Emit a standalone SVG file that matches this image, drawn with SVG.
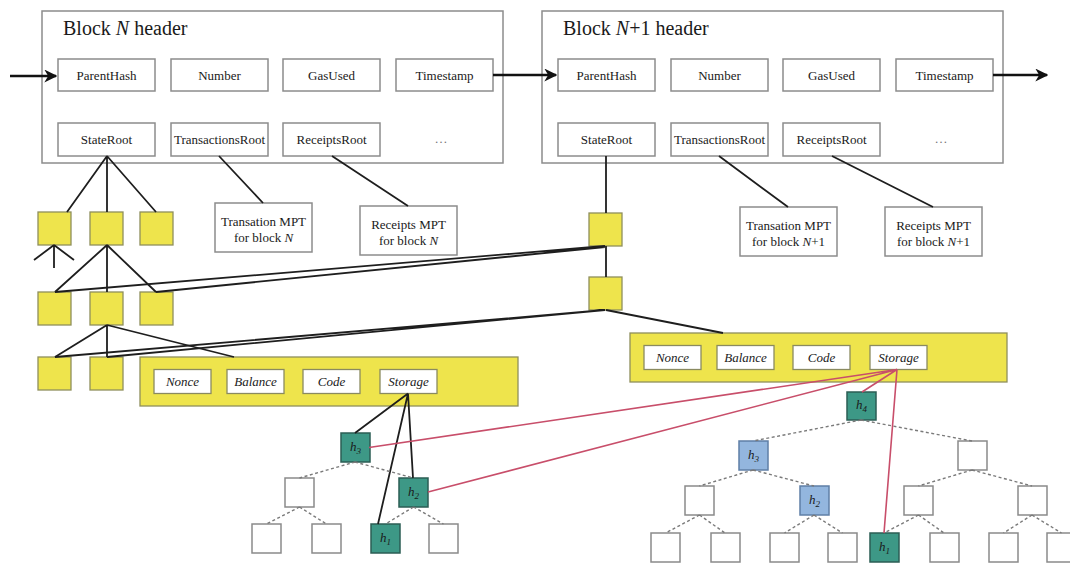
<svg xmlns="http://www.w3.org/2000/svg" width="1070" height="566" viewBox="0 0 1070 566">
  <defs>
    <marker id="arrow" viewBox="0 0 10 10" refX="9" refY="5" markerWidth="5" markerHeight="5" orient="auto" markerUnits="strokeWidth">
      <path d="M0,0 L10,5 L0,10 L3,5 Z" fill="#111"/>
    </marker>
    <style>
      text { font-family: "Liberation Serif", "Times New Roman", serif; fill: #1a1a1a; }
      .title { font-size: 20px; }
      .fldt { font-size: 13px; text-anchor: middle; }
      .it { font-style: italic; }
      .hdr { fill: #fff; stroke: #8c8c8c; stroke-width: 1.5; }
      .fld { fill: #fff; stroke: #8c8c8c; stroke-width: 1.5; }
      .ylw { fill: #eee44c; stroke: #8f8f5c; stroke-width: 1.3; }
      .acf { fill: #fff; stroke: #8a8a60; stroke-width: 1.3; }
      .node { fill: #fff; stroke: #8a8a8a; stroke-width: 1.5; }
      .teal { fill: #3d9886; stroke: #2b5d54; stroke-width: 1.5; }
      .blue { fill: #93b6de; stroke: #5f7fa6; stroke-width: 1.5; }
      .conn { stroke: #1e1e1e; stroke-width: 1.8; fill: none; }
      .arr { stroke: #111; stroke-width: 2.6; fill: none; }
      .dot { stroke: #7a7a7a; stroke-width: 1.4; stroke-dasharray: 3 2.5; fill: none; }
      .red { stroke: #c84e6a; stroke-width: 1.6; fill: none; }
      .hl { font-size: 13px; font-style: italic; text-anchor: middle; }
      .ell { fill: #777; }
    </style>
  </defs>

  <!-- block headers -->
  <g id="block-n">
    <rect class="hdr" x="42" y="11" width="461" height="152"/>
    <text class="title" x="63" y="35">Block <tspan class="it">N</tspan> header</text>
    <rect class="fld" x="58" y="59" width="97" height="32"/>
    <text class="fldt" x="106.5" y="79.5">ParentHash</text>
    <rect class="fld" x="171" y="59" width="97" height="32"/>
    <text class="fldt" x="219.5" y="79.5">Number</text>
    <rect class="fld" x="283" y="59" width="97" height="32"/>
    <text class="fldt" x="331.5" y="79.5">GasUsed</text>
    <rect class="fld" x="396" y="59" width="97" height="32"/>
    <text class="fldt" x="444.5" y="79.5">Timestamp</text>
    <rect class="fld" x="58" y="123" width="97" height="33"/>
    <text class="fldt" x="106.5" y="144">StateRoot</text>
    <rect class="fld" x="171" y="123" width="97" height="33"/>
    <text class="fldt" x="219.5" y="144" textLength="91" lengthAdjust="spacingAndGlyphs">TransactionsRoot</text>
    <rect class="fld" x="283" y="123" width="97" height="33"/>
    <text class="fldt" x="331.5" y="144">ReceiptsRoot</text>
    <text class="fldt ell" x="441" y="143">…</text>
  </g>

  <g id="block-n1">
    <rect class="hdr" x="542" y="11" width="461" height="152"/>
    <text class="title" x="563" y="35">Block <tspan class="it">N</tspan>+1 header</text>
    <rect class="fld" x="558" y="59" width="97" height="32"/>
    <text class="fldt" x="606.5" y="79.5">ParentHash</text>
    <rect class="fld" x="671" y="59" width="97" height="32"/>
    <text class="fldt" x="719.5" y="79.5">Number</text>
    <rect class="fld" x="783" y="59" width="97" height="32"/>
    <text class="fldt" x="831.5" y="79.5">GasUsed</text>
    <rect class="fld" x="896" y="59" width="97" height="32"/>
    <text class="fldt" x="944.5" y="79.5">Timestamp</text>
    <rect class="fld" x="558" y="123" width="97" height="33"/>
    <text class="fldt" x="606.5" y="144">StateRoot</text>
    <rect class="fld" x="671" y="123" width="97" height="33"/>
    <text class="fldt" x="719.5" y="144" textLength="91" lengthAdjust="spacingAndGlyphs">TransactionsRoot</text>
    <rect class="fld" x="783" y="123" width="97" height="33"/>
    <text class="fldt" x="831.5" y="144">ReceiptsRoot</text>
    <text class="fldt ell" x="941" y="143">…</text>
  </g>

  <!-- per-block transaction / receipt tries -->
  <g id="tx-mpt-n">
    <rect class="fld" x="215" y="203" width="97" height="49"/>
    <text class="fldt" x="263.5" y="226">Transation MPT</text>
    <text class="fldt" x="263.5" y="242">for block <tspan class="it">N</tspan></text>
  </g>
  <g id="rc-mpt-n">
    <rect class="fld" x="360" y="206" width="97" height="49"/>
    <text class="fldt" x="408.5" y="229">Receipts MPT</text>
    <text class="fldt" x="408.5" y="245">for block <tspan class="it">N</tspan></text>
  </g>
  <g id="tx-mpt-n1">
    <rect class="fld" x="740" y="207" width="97" height="49"/>
    <text class="fldt" x="788.5" y="230">Transation MPT</text>
    <text class="fldt" x="788.5" y="246">for block <tspan class="it">N</tspan>+1</text>
  </g>
  <g id="rc-mpt-n1">
    <rect class="fld" x="885" y="207" width="97" height="49"/>
    <text class="fldt" x="933.5" y="230">Receipts MPT</text>
    <text class="fldt" x="933.5" y="246">for block <tspan class="it">N</tspan>+1</text>
  </g>

  <!-- state trie nodes of block N -->
  <g id="state-n">
    <rect class="ylw" x="38" y="212" width="33" height="33"/>
    <rect class="ylw" x="90" y="212" width="33" height="33"/>
    <rect class="ylw" x="140" y="212" width="33" height="33"/>
    <rect class="ylw" x="38" y="292" width="33" height="33"/>
    <rect class="ylw" x="90" y="292" width="33" height="33"/>
    <rect class="ylw" x="140" y="292" width="33" height="33"/>
    <rect class="ylw" x="38" y="357" width="33" height="33"/>
    <rect class="ylw" x="90" y="357" width="33" height="33"/>
  </g>

  <g id="state-n1">
    <rect class="ylw" x="589" y="213" width="33" height="33"/>
    <rect class="ylw" x="589" y="277" width="33" height="33"/>
  </g>

  <!-- account records -->
  <g id="account-n">
    <rect class="ylw" x="140" y="357" width="378" height="49"/>
    <rect class="acf" x="154" y="369.5" width="57" height="24"/>
    <text class="fldt it" x="182.5" y="386">Nonce</text>
    <rect class="acf" x="227" y="369.5" width="57" height="24"/>
    <text class="fldt it" x="255.5" y="386">Balance</text>
    <rect class="acf" x="303" y="369.5" width="57" height="24"/>
    <text class="fldt it" x="331.5" y="386">Code</text>
    <rect class="acf" x="380" y="369.5" width="57" height="24"/>
    <text class="fldt it" x="408.5" y="386">Storage</text>
  </g>

  <g id="account-n1">
    <rect class="ylw" x="630" y="333" width="377" height="49"/>
    <rect class="acf" x="644" y="345.5" width="57" height="24"/>
    <text class="fldt it" x="672.5" y="362">Nonce</text>
    <rect class="acf" x="717" y="345.5" width="57" height="24"/>
    <text class="fldt it" x="745.5" y="362">Balance</text>
    <rect class="acf" x="793" y="345.5" width="57" height="24"/>
    <text class="fldt it" x="821.5" y="362">Code</text>
    <rect class="acf" x="870" y="345.5" width="57" height="24"/>
    <text class="fldt it" x="898.5" y="362">Storage</text>
  </g>

  <!-- storage trie of block N -->
  <g id="storage-n">
    <rect class="teal" x="341" y="433" width="29" height="29"/>
    <text class="hl" x="355.5" y="451">h<tspan font-size="9" dy="3">3</tspan></text>
    <rect class="node" x="285" y="478" width="29" height="29"/>
    <rect class="teal" x="399" y="478" width="29" height="29"/>
    <text class="hl" x="413.5" y="496">h<tspan font-size="9" dy="3">2</tspan></text>
    <rect class="node" x="252" y="524" width="29" height="29"/>
    <rect class="node" x="312" y="524" width="29" height="29"/>
    <rect class="teal" x="371" y="524" width="29" height="29"/>
    <text class="hl" x="385.5" y="542">h<tspan font-size="9" dy="3">1</tspan></text>
    <rect class="node" x="429" y="524" width="29" height="29"/>
  </g>

  <!-- storage trie of block N+1 -->
  <g id="storage-n1">
    <rect class="teal" x="847" y="392" width="29" height="28"/>
    <text class="hl" x="861.5" y="409">h<tspan font-size="9" dy="3">4</tspan></text>
    <rect class="blue" x="739" y="441" width="29" height="29"/>
    <text class="hl" x="753.5" y="459">h<tspan font-size="9" dy="3">3</tspan></text>
    <rect class="node" x="958" y="441" width="29" height="29"/>
    <rect class="node" x="685" y="486" width="29" height="29"/>
    <rect class="blue" x="800" y="486" width="29" height="29"/>
    <text class="hl" x="814.5" y="504">h<tspan font-size="9" dy="3">2</tspan></text>
    <rect class="node" x="904" y="486" width="29" height="29"/>
    <rect class="node" x="1018" y="486" width="29" height="29"/>
    <rect class="node" x="651" y="533" width="29" height="29"/>
    <rect class="node" x="711" y="533" width="29" height="29"/>
    <rect class="node" x="770" y="533" width="29" height="29"/>
    <rect class="node" x="828" y="533" width="29" height="29"/>
    <rect class="teal" x="870" y="533" width="29" height="29"/>
    <text class="hl" x="884.5" y="551">h<tspan font-size="9" dy="3">1</tspan></text>
    <rect class="node" x="930" y="533" width="29" height="29"/>
    <rect class="node" x="989" y="533" width="29" height="29"/>
    <rect class="node" x="1047" y="533" width="29" height="29"/>
  </g>

  <!-- connectors, drawn last so the storage links show over the account records -->
  <g id="connectors">
    <path class="arr" d="M10,76 H56" marker-end="url(#arrow)"/>
    <path class="arr" d="M493,75 H556" marker-end="url(#arrow)"/>
    <path class="arr" d="M993,75 H1047" marker-end="url(#arrow)"/>

    <path class="conn" d="M107,156 L67,212 M107,156 L107,212 M107,156 L156,212"/>
    <path class="conn" d="M54,245 L34,260 M54,245 L54,268 M54,245 L74,260"/>
    <path class="conn" d="M107,245 L55,292 M107,245 L107,292 M107,245 L156,292"/>
    <path class="conn" d="M107,325 L55,357 M107,325 L107,357 M107,325 L234,357"/>
    <path class="conn" d="M55,292 L605,246 M156,292 L605,247"/>
    <path class="conn" d="M55,357 L605,310 M107,357 L605,310"/>
    <path class="conn" d="M606,156 V213 M606,246 V277 M606,310 L723,333"/>
    <path class="conn" d="M219,156 L263,203 M332,156 L408,206"/>
    <path class="conn" d="M719,156 L788,207 M832,156 L933,207"/>
    <path class="conn" d="M408,393.5 L355,433 M408,393.5 L413,478 M408,393.5 L378,524"/>

    <!-- storage trie edges -->
    <path class="dot" d="M355,462 L299.5,478 M355,462 L413.5,478 M299.5,507 L266.5,524 M299.5,507 L326.5,524 M413.5,507 L385.5,524 M413.5,507 L443.5,524"/>
    <path class="dot" d="M861,420 L753,441 M861,420 L972,441 M753,470 L699.5,486 M753,470 L814,486 M972,470 L918.5,486 M972,470 L1032,486 M699.5,515 L665.5,533 M699.5,515 L725,533 M814,515 L784.5,533 M814,515 L842.5,533 M918.5,515 L884,533 M918.5,515 L944,533 M1032,515 L1003.5,533 M1032,515 L1061.5,533"/>

    <path class="red" d="M897,369.5 L369,447.5 M897,369.5 L428,492 M897,369.5 L862,392 M897,369.5 L884,533"/>
  </g>
</svg>
